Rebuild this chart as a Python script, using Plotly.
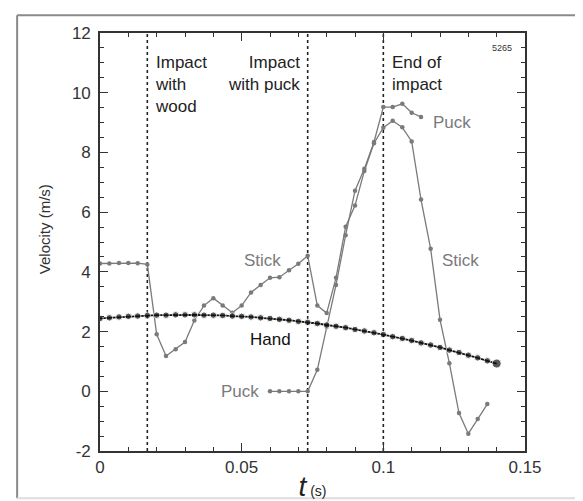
import plotly.graph_objects as go

# ---- data ----
hand_t = [0, 0.0033, 0.0067, 0.01, 0.0133, 0.0167, 0.02, 0.0233, 0.0267, 0.03,
          0.0333, 0.0367, 0.04, 0.0433, 0.0467, 0.05, 0.0533, 0.0567, 0.06, 0.0633,
          0.0667, 0.07, 0.0733, 0.0767, 0.08, 0.0833, 0.0867, 0.09, 0.0933, 0.0967,
          0.1, 0.1033, 0.1067, 0.11, 0.1133, 0.1167, 0.12, 0.1233, 0.1267, 0.13,
          0.1333, 0.1367, 0.14]
hand_v = [2.44, 2.46, 2.49, 2.51, 2.52, 2.54, 2.55, 2.55, 2.56, 2.56,
          2.56, 2.55, 2.55, 2.54, 2.52, 2.51, 2.49, 2.46, 2.44, 2.41,
          2.38, 2.34, 2.31, 2.27, 2.22, 2.18, 2.13, 2.07, 2.02, 1.96,
          1.90, 1.83, 1.77, 1.70, 1.62, 1.55, 1.47, 1.38, 1.30, 1.21,
          1.12, 1.02, 0.93]

stick_t = hand_t[:42]
stick_v = [4.28, 4.28, 4.30, 4.30, 4.29, 4.25, 1.91, 1.18, 1.41, 1.65,
           2.37, 2.87, 3.12, 2.87, 2.63, 2.87, 3.31, 3.56, 3.80, 3.82,
           4.05, 4.27, 4.54, 2.87, 2.62, 3.80, 5.51, 6.22, 7.38, 8.31,
           8.83, 9.06, 8.84, 8.37, 6.42, 4.77, 2.40, 0.94, -0.73, -1.42,
           -0.93, -0.43]

puck_t = [0.06, 0.0633, 0.0667, 0.07, 0.0733, 0.0767, 0.08, 0.0833, 0.0867, 0.09,
          0.0933, 0.0967, 0.1, 0.1033, 0.1067, 0.11, 0.1133]
puck_v = [0, 0, 0, 0, 0, 0.72, 2.15, 3.56, 5.23, 6.72,
          7.45, 8.35, 9.52, 9.52, 9.63, 9.33, 9.19]

event_t = [0.0167, 0.0733, 0.1]
event_labels = ["Impact<br>with<br>wood", "Impact<br>with puck", "End of<br>impact"]

x_ticks = [0, 0.05, 0.1, 0.15]
x_ticklabels = ["0", "0.05", "0.1", "0.15"]
y_ticks = [-2, 0, 2, 4, 6, 8, 10, 12]
y_ticklabels = ["-2", "0", "2", "4", "6", "8", "10", "12"]

GREY = "#7a7a7a"
FONT = "Liberation Sans, Arial, sans-serif"

fig = go.Figure()

fig.add_trace(go.Scatter(x=stick_t, y=stick_v, mode="lines+markers",
                         line=dict(color=GREY, width=1.3),
                         marker=dict(color=GREY, size=4.5), showlegend=False))
fig.add_trace(go.Scatter(x=puck_t, y=puck_v, mode="lines+markers",
                         line=dict(color=GREY, width=1.3),
                         marker=dict(color=GREY, size=4.5), showlegend=False))
hand_sizes = [6.5] * (len(hand_t) - 1) + [9]
fig.add_trace(go.Scatter(x=hand_t, y=hand_v, mode="lines+markers",
                         line=dict(color="#111", width=1.8),
                         marker=dict(color="#111", size=hand_sizes), showlegend=False))
# dummy trace so the mirrored top/right tick axes are drawn
fig.add_trace(go.Scatter(x=[None], y=[None], xaxis="x2", yaxis="y2",
                         showlegend=False, hoverinfo="skip"))

shapes = []
for t in event_t:
    shapes.append(dict(type="line", xref="x", yref="y", x0=t, x1=t, y0=-2, y1=12,
                       line=dict(color="#222", width=1.6, dash="dot"), layer="below"))
# outer frame of the figure
shapes.append(dict(type="line", xref="paper", yref="paper", x0=-0.195, x1=1.2,
                   y0=1.0425, y1=1.0425, line=dict(color="#8a8a8a", width=2)))
shapes.append(dict(type="line", xref="paper", yref="paper", x0=-0.195, x1=-0.195,
                   y0=1.0425, y1=-0.113, line=dict(color="#8a8a8a", width=2)))
shapes.append(dict(type="line", xref="paper", yref="paper", x0=-0.195, x1=1.2,
                   y0=-0.113, y1=-0.113, line=dict(color="#dddddd", width=2)))

ann = []
ann.append(dict(x=0.0188, y=11.4, text=event_labels[0], xanchor="left", yanchor="top",
                align="left", showarrow=False, font=dict(size=17, color="#222")))
ann.append(dict(x=0.0712, y=11.4, text=event_labels[1], xanchor="right", yanchor="top",
                align="right", showarrow=False, font=dict(size=17, color="#222")))
ann.append(dict(x=0.1022, y=11.4, text=event_labels[2], xanchor="left", yanchor="top",
                align="left", showarrow=False, font=dict(size=17, color="#222")))
ann.append(dict(x=0.1419, y=11.5, text="5265", showarrow=False,
                font=dict(size=9, color="#333")))
ann.append(dict(x=0.1168, y=9.0, text="Puck", xanchor="left", showarrow=False,
                font=dict(size=17, color=GREY)))
ann.append(dict(x=0.0575, y=4.37, text="Stick", showarrow=False,
                font=dict(size=17, color=GREY)))
ann.append(dict(x=0.1274, y=4.37, text="Stick", showarrow=False,
                font=dict(size=17, color=GREY)))
ann.append(dict(x=0.0600, y=1.73, text="Hand", showarrow=False,
                font=dict(size=17, color="#111")))
ann.append(dict(x=0.0494, y=-0.02, text="Puck", showarrow=False,
                font=dict(size=17, color=GREY)))
# y-axis title
ann.append(dict(xref="paper", yref="paper", x=-0.13, y=0.53, text="Velocity (m/s)",
                textangle=-90, showarrow=False, xanchor="center", yanchor="middle",
                font=dict(size=15, color="#333", family=FONT)))

axis_common = dict(showline=True, linecolor="#333", linewidth=1.6,
                   ticks="inside", ticklen=8, tickwidth=1.3, tickcolor="#333",
                   showgrid=False, zeroline=False)

fig.update_layout(
    width=583, height=501,
    margin=dict(l=92, r=66, t=25, b=52),
    paper_bgcolor="white", plot_bgcolor="white",
    font=dict(family=FONT, color="#333"),
    shapes=shapes, annotations=ann,
    xaxis=dict(range=[0, 0.15], tickvals=x_ticks, ticktext=x_ticklabels,
               minor=dict(dtick=0.01, ticklen=4, tickcolor="#333", ticks="inside"),
               tickfont=dict(size=17, color="#333", family=FONT),
               title=dict(text="<i>t</i><span style='font-size:14px'> (s)</span>",
                          font=dict(size=28, color="#222", family=FONT), standoff=0),
               **axis_common),
    yaxis=dict(range=[-2, 12], tickvals=y_ticks, ticktext=y_ticklabels,
               minor=dict(dtick=0.5, ticklen=4, tickcolor="#333", ticks="inside"),
               tickfont=dict(size=17, color="#333", family=FONT),
               ticklabelstandoff=4,
               **axis_common),
    xaxis2=dict(range=[0, 0.15], overlaying="x", side="top", tickvals=x_ticks,
                showticklabels=False,
                minor=dict(dtick=0.01, ticklen=4, tickcolor="#333", ticks="inside"),
                **axis_common),
    yaxis2=dict(range=[-2, 12], overlaying="y", side="right", tickvals=y_ticks,
                showticklabels=False,
                minor=dict(dtick=0.5, ticklen=4, tickcolor="#333", ticks="inside"),
                **axis_common),
)

fig.write_html("out.html")
